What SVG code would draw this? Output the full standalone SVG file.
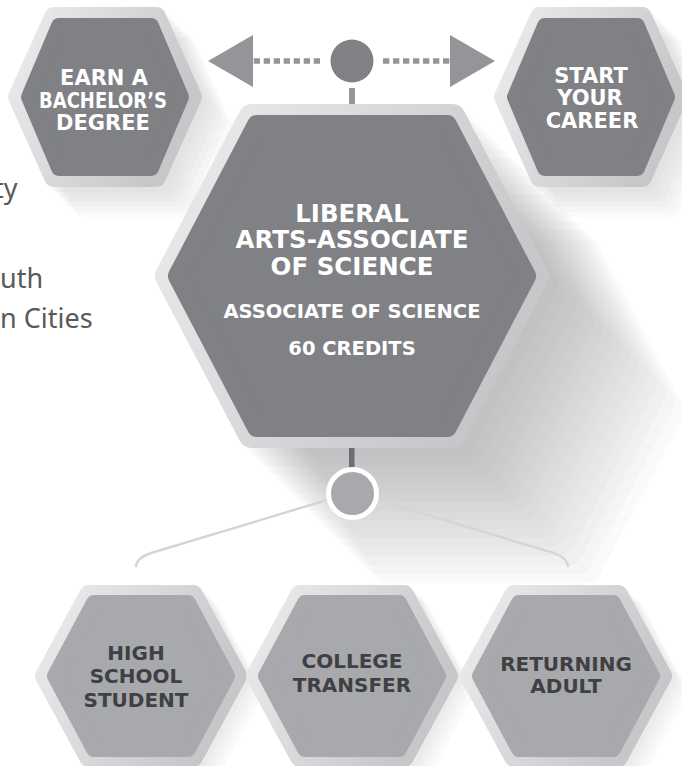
<svg xmlns="http://www.w3.org/2000/svg" xmlns:xlink="http://www.w3.org/1999/xlink" width="682" height="766" viewBox="0 0 682 766">
<style>
.rim{fill:url(#rim);stroke:url(#rim);stroke-linejoin:round}
.dk{fill:#808184;stroke:#808184;stroke-linejoin:round}
.lt{fill:#a7a9ac;stroke:#a7a9ac;stroke-linejoin:round}
.sh{fill:#6d6e71;stroke:#6d6e71;stroke-linejoin:round;opacity:.028}
.tw{font-family:"DejaVu Sans","Liberation Sans",sans-serif;font-weight:bold;fill:#ffffff;text-anchor:middle}
.top{font-size:21px}
.td{font-family:"DejaVu Sans","Liberation Sans",sans-serif;font-weight:bold;fill:#3f4042;text-anchor:middle;font-size:20px}
.side{font-family:"Noto Sans","Liberation Sans",sans-serif;fill:#58595b;font-size:27px}
.dot{fill:none;stroke:#939598;stroke-width:5.5;stroke-dasharray:6.3 3.7}
.link{fill:none;stroke:#d4d5d7;stroke-width:2.4;stroke-linecap:round}
</style>
<defs>
<linearGradient id="rim" x1="0" y1="0" x2="1" y2="0.4">
<stop offset="0" stop-color="#ececed"/>
<stop offset="1" stop-color="#c6c7c9"/>
</linearGradient>
<marker id="ah" viewBox="0 0 45 52" refX="0" refY="26" markerWidth="45" markerHeight="52" markerUnits="userSpaceOnUse" orient="auto">
<path d="M0,0 L45,26 L0,52 Z" fill="#939598"/>
</marker>
<polygon id="cO" points="252,118 452,118 535,276 452,434 252,434 169,276"/>
<polygon id="cI" points="257,125 447,125 526,276 447,427 257,427 178,276"/>
<polygon id="sO" points="-51,-80 51,-80 87,0 51,80 -51,80 -87,0"/>
<polygon id="sI" points="-46,-71 46,-71 76,0 46,71 -46,71 -76,0"/>
<polygon id="bO" points="-52,-81 52,-81 96,0 52,81 -52,81 -96,0"/>
<polygon id="bI" points="-47,-73 47,-73 86,0 47,73 -47,73 -86,0"/>
</defs>

<g id="side-text">
<text class="side" x="-6" y="198">ty</text>
<text class="side" x="0" y="288">uth</text>
<text class="side" x="0" y="328">n Cities</text>
</g>

<g id="shadows">
<use href="#cO" class="sh" stroke-width="28" transform="translate(9 9)"/>
<use href="#cO" class="sh" stroke-width="28" transform="translate(18 18)"/>
<use href="#cO" class="sh" stroke-width="28" transform="translate(27 27)"/>
<use href="#cO" class="sh" stroke-width="28" transform="translate(36 36)"/>
<use href="#cO" class="sh" stroke-width="28" transform="translate(45 45)"/>
<use href="#cO" class="sh" stroke-width="28" transform="translate(54 54)"/>
<use href="#cO" class="sh" stroke-width="28" transform="translate(63 63)"/>
<use href="#cO" class="sh" stroke-width="28" transform="translate(72 72)"/>
<use href="#cO" class="sh" stroke-width="28" transform="translate(81 81)"/>
<use href="#cO" class="sh" stroke-width="28" transform="translate(90 90)"/>
<use href="#cO" class="sh" stroke-width="28" transform="translate(99 99)"/>
<use href="#cO" class="sh" stroke-width="28" transform="translate(108 108)"/>
<use href="#cO" class="sh" stroke-width="28" transform="translate(117 117)"/>
<use href="#cO" class="sh" stroke-width="28" transform="translate(126 126)"/>
<use href="#cO" class="sh" stroke-width="28" transform="translate(135 135)"/>
<use href="#sO" class="sh" stroke-width="20" transform="translate(110 102)"/>
<use href="#sO" class="sh" stroke-width="20" transform="translate(115 107)"/>
<use href="#sO" class="sh" stroke-width="20" transform="translate(120 112)"/>
<use href="#sO" class="sh" stroke-width="20" transform="translate(125 117)"/>
<use href="#sO" class="sh" stroke-width="20" transform="translate(130 122)"/>
<use href="#sO" class="sh" stroke-width="20" transform="translate(135 127)"/>
<use href="#sO" class="sh" stroke-width="20" transform="translate(596 102)"/>
<use href="#sO" class="sh" stroke-width="20" transform="translate(601 107)"/>
<use href="#sO" class="sh" stroke-width="20" transform="translate(606 112)"/>
<use href="#sO" class="sh" stroke-width="20" transform="translate(611 117)"/>
<use href="#sO" class="sh" stroke-width="20" transform="translate(616 122)"/>
<use href="#sO" class="sh" stroke-width="20" transform="translate(621 127)"/>
<use href="#bO" class="sh" stroke-width="20" transform="translate(145 680)"/>
<use href="#bO" class="sh" stroke-width="20" transform="translate(149 684)"/>
<use href="#bO" class="sh" stroke-width="20" transform="translate(153 688)"/>
<use href="#bO" class="sh" stroke-width="20" transform="translate(157 692)"/>
<use href="#bO" class="sh" stroke-width="20" transform="translate(356 680)"/>
<use href="#bO" class="sh" stroke-width="20" transform="translate(360 684)"/>
<use href="#bO" class="sh" stroke-width="20" transform="translate(364 688)"/>
<use href="#bO" class="sh" stroke-width="20" transform="translate(368 692)"/>
<use href="#bO" class="sh" stroke-width="20" transform="translate(570 680)"/>
<use href="#bO" class="sh" stroke-width="20" transform="translate(574 684)"/>
<use href="#bO" class="sh" stroke-width="20" transform="translate(578 688)"/>
<use href="#bO" class="sh" stroke-width="20" transform="translate(582 692)"/>
</g>

<g id="connectors">
<path class="dot" d="M320,61 H253" marker-end="url(#ah)"/>
<path class="dot" d="M383,61 H450" marker-end="url(#ah)"/>
<circle cx="352" cy="61" r="21.5" fill="#808184"/>
<rect x="349" y="88" width="6" height="17" fill="#939598"/>
<rect x="349" y="446" width="5.5" height="22" fill="#6d6e71"/>
<path class="link" d="M327,500 L151,553 Q137,558 136,566"/>
<path class="link" d="M378,500 L554,553 Q567,558 568,566"/>
<circle cx="352.5" cy="493.5" r="24" fill="#a7a9ac" stroke="#ffffff" stroke-width="5"/>
</g>

<g id="node-bachelor">
<use href="#sO" class="rim" stroke-width="20" transform="translate(105 97)"/>
<use href="#sI" class="dk" stroke-width="16" transform="translate(105 97)"/>
<text class="tw top" x="104" y="85">EARN A</text>
<text class="tw top" x="103" y="108" textLength="128" lengthAdjust="spacingAndGlyphs">BACHELOR’S</text>
<text class="tw top" x="103" y="130">DEGREE</text>
</g>

<g id="node-career">
<use href="#sO" class="rim" stroke-width="20" transform="translate(591 97)"/>
<use href="#sI" class="dk" stroke-width="16" transform="translate(591 97)"/>
<text class="tw top" x="591" y="83">START</text>
<text class="tw top" x="590" y="105">YOUR</text>
<text class="tw top" x="592" y="128">CAREER</text>
</g>

<g id="node-liberal-arts">
<use href="#cO" class="rim" stroke-width="28"/>
<use href="#cI" class="dk" stroke-width="20"/>
<text class="tw" font-size="24.5" x="352" y="222">LIBERAL</text>
<text class="tw" font-size="24.5" x="352" y="248">ARTS-ASSOCIATE</text>
<text class="tw" font-size="24.5" x="352" y="275">OF SCIENCE</text>
<text class="tw" font-size="19.5" x="352" y="318">ASSOCIATE OF SCIENCE</text>
<text class="tw" font-size="19.5" x="352" y="355">60 CREDITS</text>
</g>

<g id="node-high-school">
<use href="#bO" class="rim" stroke-width="20" transform="translate(141 676)"/>
<use href="#bI" class="lt" stroke-width="16" transform="translate(141 676)"/>
<text class="td" x="136" y="660">HIGH</text>
<text class="td" x="136" y="683">SCHOOL</text>
<text class="td" x="136" y="707">STUDENT</text>
</g>

<g id="node-college-transfer">
<use href="#bO" class="rim" stroke-width="20" transform="translate(352 676)"/>
<use href="#bI" class="lt" stroke-width="16" transform="translate(352 676)"/>
<text class="td" x="352" y="668">COLLEGE</text>
<text class="td" x="352" y="692">TRANSFER</text>
</g>

<g id="node-returning-adult">
<use href="#bO" class="rim" stroke-width="20" transform="translate(566 676)"/>
<use href="#bI" class="lt" stroke-width="16" transform="translate(566 676)"/>
<text class="td" x="566" y="671">RETURNING</text>
<text class="td" x="566" y="693">ADULT</text>
</g>
</svg>
